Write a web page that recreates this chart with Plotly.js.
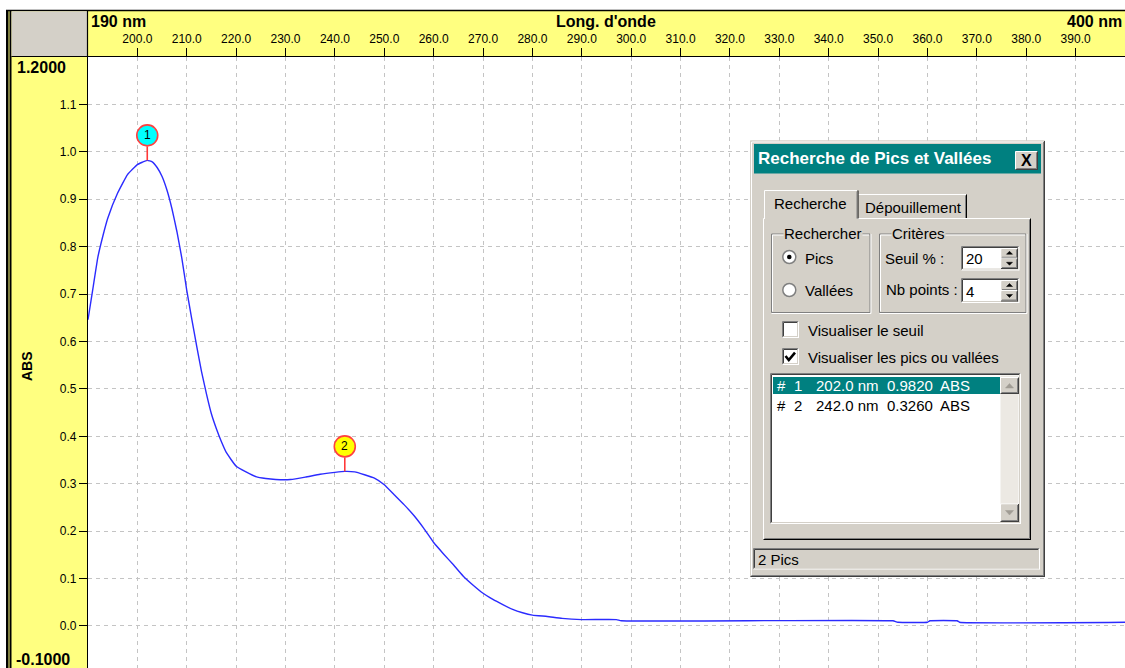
<!DOCTYPE html>
<html>
<head>
<meta charset="utf-8">
<script src="https://cdn.plot.ly/plotly-3.0.1.min.js"></script>
<style>
html,body{margin:0;padding:0;background:#fff;overflow:hidden;}
#chart{width:1125px;height:668px;}
</style>
</head>
<body>
<div id="chart"></div>
<script>
// ---- data ----
const wavelength = [190,191,192,193,194,196,198,200,201,202,203,204,205,206,207,208,209,210,211,212,213,214,215,216,217,218,220,222,224,226,228,231,234,237,240,242,244,246,248,250,252,254,256,258,260,262,264,266,268,270,272,274,276,278,280,283,286,290,297,298,353,354,360,360.5,366,366.5,400];
const absorbance = [0.646,0.712,0.778,0.822,0.860,0.913,0.952,0.973,0.978,0.982,0.979,0.967,0.948,0.919,0.880,0.832,0.776,0.708,0.648,0.591,0.536,0.489,0.447,0.416,0.389,0.366,0.337,0.325,0.315,0.311,0.309,0.309,0.314,0.320,0.324,0.326,0.325,0.319,0.312,0.298,0.277,0.256,0.233,0.206,0.176,0.152,0.129,0.105,0.086,0.069,0.056,0.045,0.035,0.028,0.023,0.020,0.016,0.0135,0.0135,0.011,0.011,0.008,0.008,0.011,0.011,0.008,0.008];
const peakWl = [202.0, 242.0];
const peakAbs = [0.9820, 0.3260];
const peakIds = ['1','2'];
const peakColors = ['#00ffff','#ffff00'];
const xTickVals = [200,210,220,230,240,250,260,270,280,290,300,310,320,330,340,350,360,370,380,390];
const xTickText = ['200.0','210.0','220.0','230.0','240.0','250.0','260.0','270.0','280.0','290.0','300.0','310.0','320.0','330.0','340.0','350.0','360.0','370.0','380.0','390.0'];
const yTickVals = [0.0,0.1,0.2,0.3,0.4,0.5,0.6,0.7,0.8,0.9,1.0,1.1];
const yTickText = ['0.0','0.1','0.2','0.3','0.4','0.5','0.6','0.7','0.8','0.9','1.0','1.1'];
const xRange = [190, 400];
const yRange = [-0.0886, 1.2];
const xLabelMin = '190 nm', xLabelMax = '400 nm', xTitle = "Long. d'onde";
const yLabelMax = '1.2000', yLabelMin = '-0.1000', yTitle = 'ABS';

// ---- geometry helpers (pixel -> paper) ----
const W = 1125, H = 668, ML = 88, MT = 57;
const PW = W - ML, PH = H - MT;
const X = p => (p - ML) / PW;
const Y = p => (H - p) / PH;
const shapes = [], annotations = [];
const FACE = '#d4d0c8';
function rect(x0,y0,x1,y1,fill){
  shapes.push({type:'rect',xref:'paper',yref:'paper',x0:X(x0),x1:X(x1),y0:Y(y0),y1:Y(y1),fillcolor:fill,line:{width:0},layer:'above'});
}
function ln(x0,y0,x1,y1,color,w){
  shapes.push({type:'line',xref:'paper',yref:'paper',x0:X(x0),x1:X(x1),y0:Y(y0),y1:Y(y1),line:{color:color,width:w||1},layer:'above'});
}
function bevel(x0,y0,x1,y1,tl,br){
  ln(x0,y0,x1,y0,tl); ln(x0,y0,x0,y1,tl);
  ln(x0,y1,x1,y1,br); ln(x1,y0,x1,y1+0.5,br);
}
function raised(x0,y0,x1,y1){ bevel(x0,y0,x1,y1,'#ffffff','#404040'); bevel(x0+1,y0+1,x1-1,y1-1,FACE,'#808080'); }
function sunken(x0,y0,x1,y1){ bevel(x0,y0,x1,y1,'#808080','#ffffff'); bevel(x0+1,y0+1,x1-1,y1-1,'#404040',FACE); }
function etched(x0,y0,x1,y1){
  ln(x0,y0,x1,y0,'#808080'); ln(x0,y0,x0,y1,'#808080'); ln(x0,y1,x1,y1,'#808080'); ln(x1,y0,x1,y1,'#808080');
  ln(x0+1,y0+1,x1-1,y0+1,'#fff'); ln(x0+1,y0+1,x0+1,y1-1,'#fff'); ln(x0,y1+1,x1+1,y1+1,'#fff'); ln(x1+1,y0,x1+1,y1+1,'#fff');
}
function circ(cx,cy,r,fill,lc,lw){
  shapes.push({type:'circle',xref:'paper',yref:'paper',x0:X(cx-r),x1:X(cx+r),y0:Y(cy+r),y1:Y(cy-r),fillcolor:fill,line:{color:lc,width:lw||0},layer:'above'});
}
function poly(pts,fill,lc,lw,closed){
  let d = pts.map((p,i)=>(i?'L':'M')+X(p[0])+','+Y(p[1])).join(' ') + (closed?' Z':'');
  shapes.push({type:'path',xref:'paper',yref:'paper',path:d,fillcolor:fill||'rgba(0,0,0,0)',line:{color:lc||'rgba(0,0,0,0)',width:lw||0},layer:'above'});
}
function txt(s,x,y,o){
  o = o||{};
  annotations.push({xref:'paper',yref:'paper',x:X(x),y:Y(y),text:s,showarrow:false,
    xanchor:o.xa||'left',yanchor:'middle',textangle:o.angle||0,borderpad:0,
    bgcolor:o.bg||'rgba(0,0,0,0)',
    font:{family:o.family||'Liberation Sans, Arial, sans-serif',size:o.size||15,color:o.color||'#000',weight:o.bold?'bold':'normal'}});
}

// ---- frame around the plot ----
rect(0,0,W,10.5,'#ffffff');
rect(0,0,6,H,'#ffffff');
ln(6,10.5,W,10.5,'#000',1.5);
rect(6,10.5,8.5,H,'#000000');
rect(9.5,10.5,11.5,H,'#000000');
rect(11.5,11.2,87.5,56,FACE);
ln(11.5,56.5,88,56.5,'#000',1.2);
ln(87.5,11,87.5,57,'#000',1.2);
txt(xLabelMin,90,21,{size:16,bold:true});
txt(xTitle,605.5,21,{size:16,bold:true,xa:'center'});
txt(xLabelMax,1123,21,{size:16,bold:true,xa:'right'});
txt(yLabelMax,16,68,{size:16,bold:true});
txt(yLabelMin,15,659,{size:16,bold:true});
txt(yTitle,27,366,{size:14,bold:true,angle:-90,xa:'center'});

// ---- peak markers (anchored at data, offsets in pixels) ----
peakWl.forEach((w,i)=>{
  shapes.push({type:'line',xref:'x',yref:'y',xsizemode:'pixel',ysizemode:'pixel',xanchor:w,yanchor:peakAbs[i],x0:0,x1:0,y0:0,y1:14,line:{color:'#ff3838',width:1.6},layer:'above'});
  shapes.push({type:'circle',xref:'x',yref:'y',xsizemode:'pixel',ysizemode:'pixel',xanchor:w,yanchor:peakAbs[i],x0:-10.5,x1:10.5,y0:14.5,y1:35.5,fillcolor:peakColors[i],line:{color:'#ff4040',width:1.6},layer:'above'});
  annotations.push({xref:'x',yref:'y',x:w,y:peakAbs[i],yshift:25,text:peakIds[i],showarrow:false,xanchor:'center',yanchor:'middle',
    font:{family:'Liberation Sans, Arial, sans-serif',size:12,color:'#000'}});
});

// ---- dialog "Recherche de Pics et Vallées" ----
const dx0=750, dy0=140.5, dx1=1045, dy1=577;
rect(dx0,dy0,dx1,dy1,FACE);
bevel(dx0+0.5,dy0+0.5,dx1-0.5,dy1-0.5,FACE,'#404040');
bevel(dx0+1.5,dy0+1.5,dx1-1.5,dy1-1.5,'#ffffff','#808080');
rect(754,144,1041,173.5,'#008080');
txt('Recherche de Pics et Vallées',757,158.5,{size:17,bold:true,color:'#ffffff'});
rect(1015.5,151.5,1037.5,169.5,FACE);
raised(1015.5,151.5,1037.5,169.5);
txt('X',1026.5,160.5,{size:16,bold:true,xa:'center'});

// tab panel
bevel(763.5,218.5,1030.5,539.5,'#ffffff','#000000');
ln(1029.5,219.5,1029.5,538.5,'#808080'); ln(764.5,538.5,1029.5,538.5,'#808080');
// inactive tab
ln(858.5,194.5,966,194.5,'#ffffff'); ln(966.5,194.5,966.5,218,'#000000'); ln(965.5,195.5,965.5,218,'#808080');
txt('Dépouillement',864,207,{size:15});
// active tab
rect(764.5,191.5,857.5,219.5,FACE);
ln(764.5,190.5,857,190.5,'#ffffff'); ln(764.5,190.5,764.5,219,'#ffffff');
ln(858,190.5,858,218.5,'#000000'); ln(857,191.5,857,218.5,'#808080');
txt('Recherche',773,203.5,{size:15});

// group boxes
etched(771.5,234,870,312.5);
etched(879.5,234,1026,312.5);
txt('Rechercher',783,233.5,{size:15,bg:FACE});
txt('Critères',891,233.5,{size:15,bg:FACE});
// radio buttons
circ(789.3,257,6.5,'#ffffff','#808080',1.5);
circ(789.3,257,2.3,'#000000','#000000',0);
txt('Pics',804,258.5,{size:15});
circ(789.3,290,6.5,'#ffffff','#808080',1.5);
txt('Vallées',804,290.5,{size:15});
// inputs
txt('Seuil % :',884,258.5,{size:15});
txt('Nb points :',884.5,289,{size:15});
[[246.5,270],[278.5,302.5]].forEach(([a,b],k)=>{
  rect(961.5,a,1019,b,'#ffffff');
  sunken(961.5,a,1019,b);
  const m=(a+b)/2;
  rect(1001,a+2,1017.5,b-1.5,FACE);
  raised(1001,a+2,1017.5,m); raised(1001,m,1017.5,b-1.5);
  poly([[1006.5,m-4],[1012.5,m-4],[1009.5,m-7]],'#000','#000',0.5,true);
  poly([[1006.5,m+4],[1012.5,m+4],[1009.5,m+7]],'#000','#000',0.5,true);
  txt(k===0?'20':'4',964.5,m+0.5,{size:15});
});
// checkboxes
[[321.5,'Visualiser le seuil',false],[348.5,'Visualiser les pics ou vallées',true]].forEach(([t,lab,chk])=>{
  rect(782.5,t,798.5,t+16,'#ffffff');
  sunken(782.5,t,798.5,t+16);
  if(chk) poly([[785.5,t+7.5],[788.8,t+11.5],[795,t+4.2]],null,'#000',2.6,false);
  txt(lab,806.5,t+9,{size:15});
});
// list box
rect(770.5,373.5,1020.5,523.5,'#ffffff');
sunken(770.5,373.5,1020.5,523.5);
rect(1000.5,375.5,1018.5,521.5,'#ece9e3');
rect(1000.5,377.5,1018.5,393.5,FACE); raised(1000.5,377.5,1018.5,393.5);
poly([[1005.5,388],[1013.5,388],[1009.5,383.5]],'#a09c94','#a09c94',0.5,true);
rect(1000.5,504,1018.5,521.5,FACE); raised(1000.5,504,1018.5,521.5);
poly([[1005.5,510.5],[1013.5,510.5],[1009.5,515]],'#a09c94','#a09c94',0.5,true);
rect(773,377,1000,394,'#008080');
peakWl.forEach((w,i)=>{
  const yy = 385.5 + i*19.5;
  const c = i===0 ? '#ffffff' : '#000000';
  txt('#',776,yy,{size:15,color:c});
  txt(peakIds[i],792.5,yy,{size:15,color:c});
  txt(w.toFixed(1)+' nm',815,yy,{size:15,color:c});
  txt(peakAbs[i].toFixed(4),885.5,yy,{size:15,color:c});
  txt('ABS',939,yy,{size:15,color:c});
});
// status bar
sunken(753.5,548.5,1039.5,569);
txt(peakWl.length+' Pics',756.5,559.5,{size:15});

// ---- plot ----
const trace = {x:wavelength,y:absorbance,type:'scatter',mode:'lines',line:{color:'#2b2bff',width:1.4,shape:'spline',smoothing:0.4},hoverinfo:'skip'};
const gridStyle = {gridcolor:'#c4c4c4',griddash:'4px,4px',gridwidth:1};
const layout = {
  width:W,height:H,
  margin:{l:ML,r:0,t:MT,b:0,pad:0},
  paper_bgcolor:'#ffff80',plot_bgcolor:'#ffffff',
  showlegend:false,
  xaxis:Object.assign({range:xRange,side:'top',tickmode:'array',tickvals:xTickVals,ticktext:xTickText,
    ticks:'outside',ticklen:8,tickcolor:'#000',tickwidth:1,showline:true,linecolor:'#000',linewidth:1.2,
    zeroline:false,fixedrange:true,ticklabelstandoff:0,
    tickfont:{family:'Liberation Sans, Arial, sans-serif',size:12,color:'#000'}},gridStyle),
  yaxis:Object.assign({range:yRange,tickmode:'array',tickvals:yTickVals,ticktext:yTickText,
    ticks:'outside',ticklen:8,tickcolor:'#000',tickwidth:1,showline:true,linecolor:'#000',linewidth:1.2,
    zeroline:false,fixedrange:true,ticklabelstandoff:0,
    tickfont:{family:'Liberation Sans, Arial, sans-serif',size:12,color:'#000'}},gridStyle),
  shapes:shapes,annotations:annotations
};
Plotly.newPlot('chart',[trace],layout,{displayModeBar:false,staticPlot:true});
</script>
</body>
</html>
